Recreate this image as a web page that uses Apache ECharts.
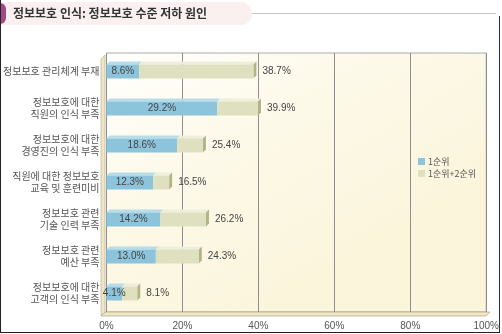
<!DOCTYPE html>
<html><head><meta charset="utf-8">
<script src="https://cdn.jsdelivr.net/npm/echarts@6/dist/echarts.min.js"></script>
<style>html,body{margin:0;padding:0;background:#fff}#c{width:502px;height:334px}</style>
</head><body><div id="c"></div>
<script>
const titleText = '정보보호 인식: 정보보호 수준 저하 원인';
const categories = [
  '정보보호 관리체계 부재',
  '정보보호에 대한\n직원의 인식 부족',
  '정보보호에 대한\n경영진의 인식 부족',
  '직원에 대한 정보보호\n교육 및 훈련미비',
  '정보보호 관련\n기술 인력 부족',
  '정보보호 관련\n예산 부족',
  '정보보호에 대한\n고객의 인식 부족'
];
const rank1 = [8.6, 29.2, 18.6, 12.3, 14.2, 13.0, 4.1];
const rank12 = [38.7, 39.9, 25.4, 16.5, 26.2, 24.3, 8.1];
const seriesNames = ['1순위', '1순위+2순위'];
const xTicks = [0, 20, 40, 60, 80, 100];

const rest = rank12.map((t, i) => +(t - rank1[i]).toFixed(1));
const depthData = categories.map((c, i) => [i, rank1[i], rank12[i]]);

const chart = echarts.init(document.getElementById('c'));
const numFont = '"Liberation Sans Narrow", "Liberation Sans", Arial, sans-serif';
const krFont = '"Noto Sans CJK KR", sans-serif';
chart.setOption({
  animation: false,
  backgroundColor: '#fff',
  grid: {
    left: 105, right: 14, top: 53, bottom: 22,
    show: true, borderColor: '#aaa', borderWidth: 1,
    backgroundColor: {type: 'linear', x: 0, y: 0, x2: 0.4, y2: 1,
      colorStops: [{offset: 0, color: '#fffffd'}, {offset: 0.5, color: '#fdf9e8'}, {offset: 1, color: '#fbf5dc'}]}
  },
  legend: {
    data: seriesNames, orient: 'vertical', left: 418, top: 157, padding: 0,
    itemWidth: 7, itemHeight: 7, itemGap: 3, icon: 'rect',
    textStyle: {fontSize: 9, color: '#555', fontFamily: krFont, padding: [0, 0, 0, -2]}
  },
  xAxis: {
    type: 'value', min: 0, max: 100, interval: 20,
    axisLine: {show: false}, axisTick: {show: false},
    splitLine: {lineStyle: {color: '#8f8f8f', width: 1}},
    axisLabel: {formatter: v => v + '%', color: '#555', fontSize: 10, fontFamily: numFont, margin: 9,
      customValues: xTicks}
  },
  yAxis: {
    type: 'category', data: categories, inverse: true,
    axisLine: {show: false}, axisTick: {show: false},
    axisLabel: {color: '#555', fontSize: 10, lineHeight: 12, fontFamily: krFont, margin: 7, align: 'right'}
  },
  series: [
    {
      name: seriesNames[0], type: 'bar', stack: 's', barWidth: 14, data: rank1,
      itemStyle: {color: '#8cc4dc'},
      label: {show: true, position: 'inside', color: '#444', fontSize: 10, fontFamily: numFont,
        textBorderWidth: 0, formatter: p => rank1[p.dataIndex].toFixed(1) + '%'}
    },
    {
      name: seriesNames[1], type: 'bar', stack: 's', barWidth: 14, data: rest,
      itemStyle: {color: '#dfe0bf'},
      label: {show: true, position: 'right', distance: 9, color: '#444', fontSize: 10, fontFamily: numFont,
        textBorderWidth: 0, formatter: p => rank12[p.dataIndex].toFixed(1) + '%'}
    },
    {
      type: 'custom', data: depthData, encode: {y: 0, x: [1, 2]}, silent: true,
      renderItem: function (params, api) {
        const cat = api.value(0);
        const p0 = api.coord([0, cat]);
        const p1 = api.coord([api.value(1), cat]);
        const p2 = api.coord([api.value(2), cat]);
        const h = 14, d = 3;
        const yT = p0[1] - h / 2, yB = p0[1] + h / 2;
        return {type: 'group', children: [
          {type: 'polygon', shape: {points: [[p0[0], yT], [p0[0] + d, yT - d], [p1[0] + d, yT - d], [p1[0], yT]]}, style: {fill: '#b7dcea'}},
          {type: 'polygon', shape: {points: [[p1[0], yT], [p1[0] + d, yT - d], [p2[0] + d, yT - d], [p2[0], yT]]}, style: {fill: '#eeefdb'}},
          {type: 'polygon', shape: {points: [[p2[0], yT], [p2[0] + d, yT - d], [p2[0] + d, yB - d], [p2[0], yB]]}, style: {fill: '#b3b38a'}}
        ]};
      }
    }
  ],
  graphic: [
    {type: 'rect', left: 0, top: 2, shape: {width: 252, height: 23, r: [0, 12, 12, 0]}, style: {fill: '#faf0f0'}},
    {type: 'rect', left: 0, top: 3, shape: {width: 6, height: 21, r: [0, 6, 6, 0]}, style: {fill: '#9e4a84'}},
    {type: 'text', left: 13, top: 7, style: {text: titleText, font: 'bold 12px "Noto Sans CJK KR"', fill: '#333'}},
    {type: 'line', shape: {x1: 252, y1: 13.5, x2: 496, y2: 13.5}, style: {stroke: '#c8c8c8', lineWidth: 1}},
    {type: 'line', shape: {x1: 499.5, y1: 16, x2: 499.5, y2: 333}, style: {stroke: '#333', lineWidth: 1}},
    {type: 'line', shape: {x1: 0.5, y1: 0, x2: 0.5, y2: 333}, style: {stroke: '#222', lineWidth: 1}},
    {type: 'line', shape: {x1: 0, y1: 332.5, x2: 500, y2: 332.5}, style: {stroke: '#222', lineWidth: 1}},
    {type: 'polygon', shape: {points: [[101, 316], [105, 312], [105, 55], [101, 59]]}, style: {fill: '#f3e6bd', stroke: '#aaa', lineWidth: 0.6}},
    {type: 'polygon', shape: {points: [[101, 316], [105, 312], [490, 312], [486, 316]]}, style: {fill: '#f3e6bd', stroke: '#999', lineWidth: 0.6}}
  ]
});
</script></body></html>
